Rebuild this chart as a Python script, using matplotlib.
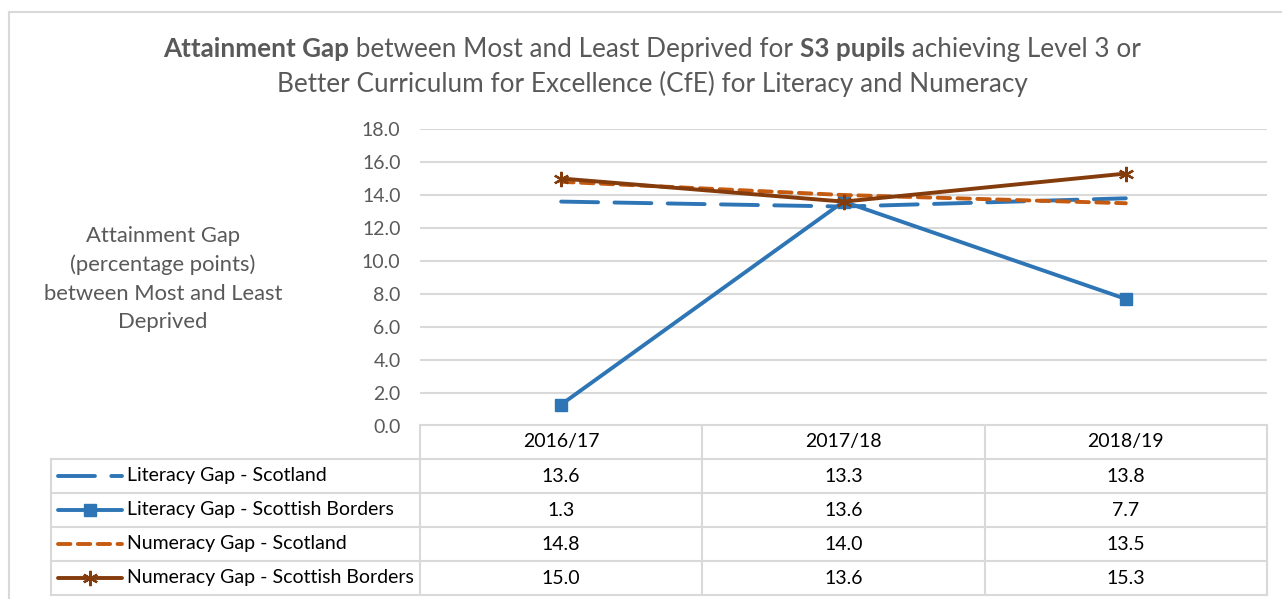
import numpy as np
import matplotlib
matplotlib.use("Agg")
import matplotlib.pyplot as plt
from matplotlib.lines import Line2D

plt.rcParams['font.family'] = ['Lato', 'DejaVu Sans']

# data
years = ["2016/17", "2017/18", "2018/19"]
literacy_scotland = [13.6, 13.3, 13.8]
literacy_borders = [1.3, 13.6, 7.7]
numeracy_scotland = [14.8, 14.0, 13.5]
numeracy_borders = [15.0, 13.6, 15.3]
series_names = ["Literacy Gap - Scotland", "Literacy Gap - Scottish Borders",
                "Numeracy Gap - Scotland", "Numeracy Gap - Scottish Borders"]
yticks = np.arange(0, 18.1, 2.0)

W, H = 1282, 599
BLUE = "#2E75B6"
ORANGE = "#C55A11"
BROWN = "#843C0C"
GRID = "#D9D9D9"
GREY = "#595959"

styles = [
    dict(color=BLUE, lw=2.8, dashes=(9.5, 4.2), dash_capstyle="round"),
    dict(color=BLUE, lw=2.8, marker="s", ms=9, solid_capstyle="round"),
    dict(color=ORANGE, lw=2.8, dashes=(3.2, 1.9), dash_capstyle="round"),
    dict(color=BROWN, lw=2.8, marker=(6, 2, 0), ms=11, mew=1.6, mec=BROWN,
         solid_capstyle="round"),
]
all_series = [literacy_scotland, literacy_borders, numeracy_scotland, numeracy_borders]

fig = plt.figure(figsize=(W / 100, H / 100), dpi=100)

def fx(px):
    return px / W

def fy(py):
    return 1 - py / H

# chart border
fig.add_artist(Line2D([fx(9), 1], [fy(12), fy(12)], color=GRID, lw=1.5))
fig.add_artist(Line2D([fx(9), fx(9)], [fy(12), 0], color=GRID, lw=1.5))

# main plot area
ax = fig.add_axes([fx(420), fy(426), fx(1267) - fx(420), fy(129) - fy(426)])
x = np.arange(len(years))
for vals, st in zip(all_series, styles):
    ax.plot(x, vals, **st)
ax.set_xlim(-0.5, 2.5)
ax.set_ylim(0, 18)
ax.set_yticks(yticks)
ax.set_yticklabels([f"{v:.1f}" for v in yticks], color=GREY, fontsize=14)
ax.tick_params(axis="y", length=0, pad=14)
ax.set_xticks([])
ax.grid(axis="y", color=GRID, lw=1.5)
ax.set_axisbelow(True)
for s in ax.spines.values():
    s.set_visible(False)

# y label
ylab = "Attainment Gap\n(percentage points)\nbetween Most and Least\nDeprived"
fig.text(fx(163), fy(279), ylab, ha="center", va="center", fontsize=15.8,
         color=GREY, linespacing=1.52)

# title with mixed bold parts
title_lines = [
    [("Attainment Gap", "bold"), (" between Most and Least Deprived for ", "normal"),
     ("S3 pupils", "bold"), (" achieving Level 3 or", "normal")],
    [("Better Curriculum for Excellence (CfE) for Literacy and Numeracy", "normal")],
]
baselines = [57, 92]
fig.canvas.draw()
renderer = fig.canvas.get_renderer()
for parts, base in zip(title_lines, baselines):
    texts = []
    for s, wgt in parts:
        t = fig.text(0, fy(base), s, fontsize=18.8, fontweight=wgt, color=GREY,
                     va="baseline", ha="left")
        texts.append(t)
    widths = [t.get_window_extent(renderer).width for t in texts]
    start = 652 - sum(widths) / 2
    for t, w in zip(texts, widths):
        t.set_x(fx(start))
        start += w

# data table under the plot
ppu = (1267 - 420) / 3.0
x0 = -0.5 - (420 - 51) / ppu
tax = fig.add_axes([fx(51), fy(595), fx(1267) - fx(51), fy(425) - fy(595)])
tax.set_xlim(x0, 2.5)
tax.set_ylim(5, 0)
tax.axis("off")

tl = dict(color=GRID, lw=1.5, clip_on=False)
tax.plot([-0.5, 2.5], [0, 0], **tl)
for r in range(1, 6):
    tax.plot([x0, 2.5], [r, r], **tl)
tax.plot([x0, x0], [1, 5], **tl)
for c in [-0.5, 0.5, 1.5, 2.5]:
    tax.plot([c, c], [0, 5], **tl)

for i, yr in enumerate(years):
    tax.text(i, 0.5, yr, ha="center", va="center", fontsize=14, color="black")

key_a = x0 + (58 - 51) / ppu
key_b = x0 + (122 - 51) / ppu
text_x = x0 + (127 - 51) / ppu
for r, (name, vals, st) in enumerate(zip(series_names, all_series, styles)):
    yy = r + 1.5
    kst = {k: v for k, v in st.items() if k not in ("marker", "ms", "mew", "mec")}
    tax.plot([key_a, key_b], [yy, yy], clip_on=False, **kst)
    if "marker" in st:
        tax.plot([(key_a + key_b) / 2], [yy], linestyle="none", color=st["color"],
                 marker=st["marker"], ms=st["ms"], mew=st.get("mew", 1),
                 mec=st["color"], clip_on=False)
    tax.text(text_x, yy, name, ha="left", va="center", fontsize=14, color="black")
    for i, v in enumerate(vals):
        tax.text(i, yy, f"{v:.1f}", ha="center", va="center", fontsize=14,
                 color="black")

fig.savefig("out.png", dpi=100)
